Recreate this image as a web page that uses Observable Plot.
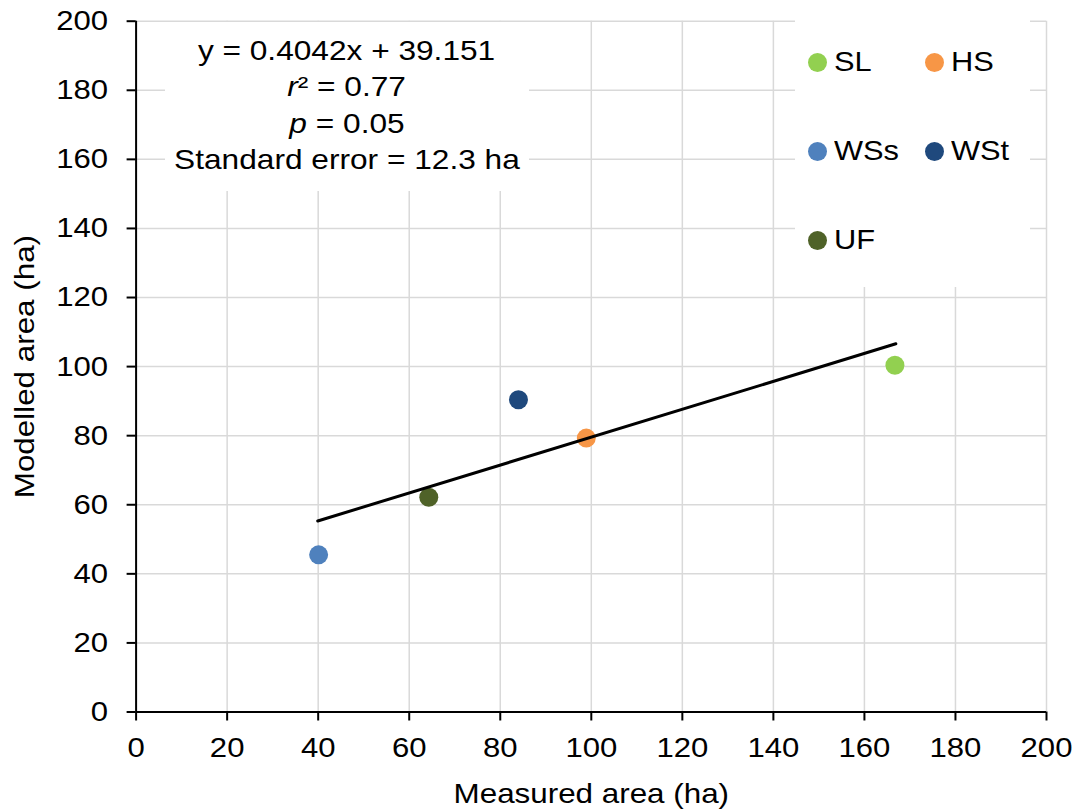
<!DOCTYPE html>
<html>
<head>
<meta charset="utf-8">
<script src="https://cdn.jsdelivr.net/npm/d3@7"></script>
<script src="https://cdn.jsdelivr.net/npm/@observablehq/plot@0.6"></script>
<style>
  html, body { margin: 0; padding: 0; background: #fff; }
  #wrap { position: relative; width: 1079px; height: 812px; font-family: "Liberation Sans", Arial, sans-serif; color: #000; }
  #wrap svg { display: block; }
  #stats { position: absolute; left: 165px; top: 22px; width: 364px; height: 169px; background: #fff;
           text-align: center; font-size: 28px; line-height: 36.4px; padding-top: 11px; box-sizing: border-box; }
  #stats span { display: inline-block; transform: scaleX(1.13); transform-origin: center; }
  #legend { position: absolute; left: 795px; top: 14px; width: 235px; height: 273px; background: #fff; }
  .item { position: absolute; display: flex; align-items: center; height: 30px; font-size: 28px; }
  .item .lab { display: inline-block; transform: scaleX(1.1); transform-origin: left center; }
  .sw { width: 19px; height: 19px; border-radius: 50%; margin-right: 7px; }
</style>
</head>
<body>
<div id="wrap"></div>
<script>
// ---- data ----
const sites = ["SL", "HS", "WSs", "WSt", "UF"];
const measured = [166.7, 98.9, 40.1, 84.0, 64.3];   // Measured area (ha)
const modelled = [100.4, 79.3, 45.5, 90.4, 62.2];   // Modelled area (ha)
const siteColors = ["#92D050", "#F79646", "#4F81BD", "#1F497D", "#4F6228"];
const trendX = [39.9, 166.9];                         // trend line end points (x)
const trendY = [55.3, 106.6];                         // trend line end points (y)
const xTicks = [0, 20, 40, 60, 80, 100, 120, 140, 160, 180, 200];
const yTicks = [0, 20, 40, 60, 80, 100, 120, 140, 160, 180, 200];
const statLines = ["y = 0.4042x + 39.151", "<i>r</i>² = 0.77", "<i>p</i> = 0.05", "Standard error = 12.3 ha"];

const points = sites.map((s, i) => ({site: s, x: measured[i], y: modelled[i]}));
const trend = trendX.map((x, i) => ({x, y: trendY[i]}));

const chart = Plot.plot({
  width: 1079,
  height: 812,
  marginLeft: 135.6,
  marginRight: 33,
  marginTop: 20.7,
  marginBottom: 100.5,
  style: {fontFamily: "'Liberation Sans', Arial, sans-serif", fontSize: "28px", color: "#000", background: "#fff"},
  x: {domain: [0, 200]},
  y: {domain: [0, 200]},
  color: {domain: sites, range: siteColors},
  marks: [
    Plot.gridX(xTicks, {stroke: "#d9d9d9", strokeOpacity: 1, strokeWidth: 1.5}),
    Plot.gridY(yTicks, {stroke: "#d9d9d9", strokeOpacity: 1, strokeWidth: 1.5}),
    Plot.axisX({ticks: xTicks, tickSize: 9, tickPadding: 16, strokeWidth: 2, fontSize: 28,
      label: "Measured area (ha)", labelAnchor: "center", labelArrow: "none", labelOffset: 91}),
    Plot.axisY({ticks: yTicks, tickSize: 9, tickPadding: 19, strokeWidth: 2, fontSize: 28,
      label: "Modelled area (ha)", labelAnchor: "center", labelArrow: "none", labelOffset: 122}),
    Plot.ruleX([0], {stroke: "#000", strokeWidth: 2}),
    Plot.ruleY([0], {stroke: "#000", strokeWidth: 2}),
    Plot.dot(points, {x: "x", y: "y", fill: "site", r: 9.5}),
    Plot.line(trend, {x: "x", y: "y", stroke: "#000", strokeWidth: 3})
  ]
});

const wrap = document.getElementById("wrap");
wrap.appendChild(chart);

// widen glyphs slightly to match the reference's wider type
chart.querySelectorAll("text").forEach(t => {
  const isTitle = /area/.test(t.textContent);
  const len = t.getComputedTextLength();
  if (len > 0) {
    t.setAttribute("textLength", (len * (isTitle ? 1.12 : 1.11)).toFixed(2));
    t.setAttribute("lengthAdjust", "spacingAndGlyphs");
  }
});

// statistics box
const stats = document.createElement("div");
stats.id = "stats";
stats.innerHTML = statLines.map(l => `<div><span>${l}</span></div>`).join("");
wrap.appendChild(stats);

// legend (two columns)
const legend = document.createElement("div");
legend.id = "legend";
sites.forEach((s, i) => {
  const col = i % 2, row = Math.floor(i / 2);
  const it = document.createElement("div");
  it.className = "item";
  it.style.left = (13 + col * 116.5) + "px";
  it.style.top = (33 + row * 89) + "px";
  it.innerHTML = `<span class="sw" style="background:${siteColors[i]}"></span><span class="lab">${s}</span>`;
  legend.appendChild(it);
});
wrap.appendChild(legend);
</script>
</body>
</html>
